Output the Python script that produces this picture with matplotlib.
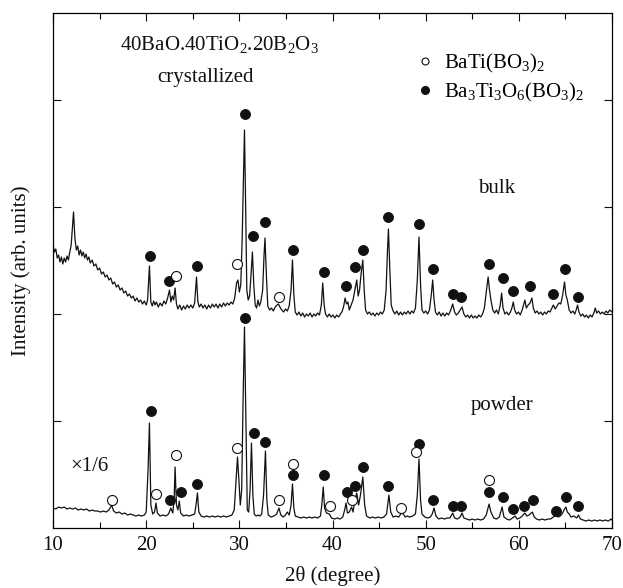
import matplotlib
matplotlib.use("Agg")
import matplotlib.pyplot as plt
from matplotlib.lines import Line2D
from matplotlib.ticker import MultipleLocator

# ---- data (2theta in degree, intensity in arb. units) ----
bulk_2theta = [
    10.0, 10.15, 10.3, 10.45, 10.6, 10.75, 10.9, 11.05, 11.2, 11.35, 11.5, 11.65, 11.8, 11.95,
    12.05, 12.2, 12.35, 12.5, 12.65, 12.8, 12.95, 13.1, 13.25, 13.4, 13.55, 13.7, 13.85, 14.0,
    14.2, 14.4, 14.6, 14.8, 15.0, 15.2, 15.4, 15.6, 15.8, 16.0, 16.2, 16.4, 16.6, 16.8, 17.0,
    17.2, 17.4, 17.6, 17.8, 18.0, 18.2, 18.4, 18.6, 18.8, 19.0, 19.2, 19.4, 19.6, 19.8, 20.0,
    20.15, 20.35, 20.5, 20.65, 20.8, 20.95, 21.1, 21.3, 21.5, 21.7, 21.9, 22.1, 22.3, 22.5,
    22.65, 22.8, 22.95, 23.1, 23.25, 23.4, 23.6, 23.8, 24.0, 24.2, 24.4, 24.6, 24.8, 25.0,
    25.2, 25.4, 25.55, 25.7, 25.9, 26.1, 26.3, 26.5, 26.7, 26.9, 27.1, 27.3, 27.5, 27.7, 27.9,
    28.1, 28.3, 28.5, 28.7, 28.9, 29.1, 29.3, 29.5, 29.7, 29.85, 30.0, 30.15, 30.3, 30.45,
    30.55, 30.65, 30.8, 30.95, 31.1, 31.25, 31.4, 31.55, 31.7, 31.85, 32.0, 32.15, 32.3, 32.5,
    32.65, 32.75, 32.9, 33.05, 33.25, 33.45, 33.65, 33.85, 34.05, 34.2, 34.35, 34.55, 34.75,
    34.95, 35.15, 35.35, 35.55, 35.7, 35.85, 36.0, 36.2, 36.4, 36.6, 36.8, 37.0, 37.2, 37.4,
    37.6, 37.8, 38.0, 38.2, 38.4, 38.6, 38.8, 38.95, 39.1, 39.25, 39.45, 39.65, 39.85, 40.05,
    40.25, 40.45, 40.65, 40.85, 41.05, 41.2, 41.35, 41.5, 41.65, 41.8, 42.0, 42.2, 42.4, 42.6,
    42.75, 42.9, 43.05, 43.25, 43.4, 43.55, 43.75, 43.95, 44.15, 44.35, 44.55, 44.75, 44.95,
    45.15, 45.35, 45.55, 45.75, 45.9, 46.0, 46.15, 46.3, 46.5, 46.7, 46.9, 47.1, 47.3, 47.5,
    47.7, 47.9, 48.1, 48.3, 48.5, 48.7, 48.9, 49.1, 49.28, 49.45, 49.6, 49.8, 50.0, 50.2, 50.4,
    50.6, 50.75, 50.9, 51.05, 51.25, 51.45, 51.65, 51.85, 52.05, 52.25, 52.45, 52.65, 52.9,
    53.1, 53.3, 53.5, 53.7, 53.9, 54.1, 54.3, 54.5, 54.7, 54.9, 55.1, 55.3, 55.5, 55.7, 55.9,
    56.1, 56.3, 56.5, 56.7, 56.85, 57.0, 57.2, 57.4, 57.6, 57.8, 58.0, 58.15, 58.3, 58.5, 58.7,
    58.9, 59.1, 59.25, 59.4, 59.55, 59.75, 59.95, 60.15, 60.35, 60.5, 60.65, 60.8, 61.0, 61.2,
    61.4, 61.55, 61.75, 61.95, 62.15, 62.35, 62.55, 62.75, 62.95, 63.15, 63.35, 63.55, 63.7,
    63.9, 64.1, 64.3, 64.5, 64.7, 64.9, 65.05, 65.2, 65.4, 65.6, 65.8, 66.0, 66.15, 66.3, 66.45,
    66.65, 66.85, 67.05, 67.25, 67.45, 67.65, 67.85, 68.05, 68.2, 68.35, 68.55, 68.75, 68.95,
    69.15, 69.35, 69.55, 69.75, 70.0,
]
bulk_counts = [
    283, 276, 279, 270, 273, 266, 271, 264, 270, 266, 272, 268, 276, 283,
    296, 316, 290, 278, 282, 273, 278, 272, 276, 270, 274, 268, 271, 265,
    268, 262, 264, 258, 260, 254, 256, 251, 253, 248, 250, 244, 246, 241, 243,
    238, 240, 235, 237, 232, 234, 230, 232, 227, 230, 226, 228, 224, 227, 223,
    228, 262, 226, 222, 227, 223, 226, 221, 225, 222, 227, 224, 230, 238,
    226, 232, 228, 240, 224, 219, 223, 218, 222, 219, 223, 220, 223, 220,
    225, 251, 226, 221, 224, 220, 223, 219, 223, 220, 224, 221, 224, 220, 224,
    221, 225, 222, 225, 223, 226, 224, 230, 245, 248, 236, 243, 288, 353,
    398, 338, 238, 228, 232, 253, 276, 243, 223, 220, 228, 222, 226, 238,
    273, 290, 253, 222, 218, 220, 217, 221, 223, 224, 221, 218, 216,
    219, 217, 222, 238, 268, 233, 216, 213, 216, 212, 215, 211, 214, 212,
    215, 211, 214, 212, 215, 213, 223, 245, 223, 214, 211, 214, 211, 213,
    210, 213, 211, 214, 217, 222, 230, 224, 226, 218, 223, 228, 238, 248,
    232, 238, 253, 268, 238, 218, 214, 216, 213, 215, 212, 215, 213,
    216, 214, 218, 238, 278, 299, 258, 223, 217, 214, 217, 213, 216, 213,
    216, 214, 217, 214, 217, 215, 220, 248, 291, 243, 218, 215, 217, 214, 218,
    233, 248, 228, 216, 213, 216, 212, 215, 212, 215, 213, 217, 224,
    216, 213, 215, 218, 221, 214, 211, 213, 210, 213, 210, 212, 210, 213, 211,
    214, 220, 236, 251, 238, 228, 218, 215, 218, 214, 223, 235, 220, 214, 216,
    213, 216, 220, 226, 218, 214, 216, 213, 218, 223, 228, 220, 223, 225,
    230, 220, 215, 217, 214, 216, 213, 216, 214, 217, 216, 220, 223,
    219, 222, 225, 224, 233, 246, 233, 228, 218, 215, 217, 214, 218, 223, 216,
    212, 214, 211, 213, 210, 213, 211, 215, 220, 215, 217, 214, 216,
    214, 217, 215, 218, 216,
]

powder_2theta = [
    10.0, 10.3, 10.6, 10.9, 11.2, 11.5, 11.8, 12.1, 12.4, 12.7, 13.0, 13.3, 13.6, 13.9, 14.2,
    14.5, 14.8, 15.1, 15.4, 15.7, 16.0, 16.3, 16.5, 16.8, 17.1, 17.4, 17.7, 18.0, 18.3, 18.6,
    18.9, 19.2, 19.5, 19.8, 20.0, 20.2, 20.35, 20.5, 20.7, 20.9, 21.05, 21.2, 21.5, 21.8, 22.1,
    22.4, 22.65, 22.85, 23.0, 23.1, 23.25, 23.4, 23.55, 23.7, 24.0, 24.3, 24.6, 24.9, 25.2,
    25.35, 25.5, 25.65, 25.9, 26.2, 26.5, 26.8, 27.1, 27.4, 27.7, 28.0, 28.3, 28.6, 28.9, 29.2,
    29.45, 29.65, 29.8, 29.95, 30.1, 30.25, 30.4, 30.55, 30.7, 30.85, 31.0, 31.15, 31.3, 31.45,
    31.6, 31.8, 32.0, 32.2, 32.4, 32.6, 32.8, 32.95, 33.1, 33.4, 33.7, 34.0, 34.25, 34.45, 34.7,
    34.95, 35.15, 35.35, 35.55, 35.7, 35.85, 36.0, 36.3, 36.6, 36.9, 37.2, 37.5, 37.8, 38.1,
    38.4, 38.7, 38.85, 39.0, 39.15, 39.35, 39.65, 39.9, 40.2, 40.5, 40.8, 41.1, 41.3, 41.45,
    41.6, 41.8, 42.05, 42.2, 42.4, 42.6, 42.8, 43.0, 43.25, 43.45, 43.65, 44.0, 44.3, 44.6,
    44.9, 45.2, 45.5, 45.8, 46.05, 46.25, 46.5, 46.8, 47.1, 47.4, 47.6, 47.8, 48.0, 48.3, 48.6,
    48.9, 49.1, 49.28, 49.45, 49.6, 49.9, 50.2, 50.5, 50.7, 50.9, 51.1, 51.4, 51.7, 52.0, 52.3,
    52.6, 52.9, 53.1, 53.4, 53.7, 53.9, 54.1, 54.4, 54.7, 55.0, 55.3, 55.6, 55.9, 56.2, 56.5,
    56.8, 57.0, 57.3, 57.6, 57.9, 58.2, 58.4, 58.7, 59.0, 59.3, 59.6, 59.8, 60.1, 60.35, 60.65,
    60.85, 61.1, 61.45, 61.65, 61.9, 62.2, 62.5, 62.8, 63.1, 63.4, 63.7, 64.0, 64.2, 64.45,
    64.7, 64.9, 65.05, 65.2, 65.4, 65.6, 65.9, 66.2, 66.4, 66.6, 66.9, 67.2, 67.5, 67.8, 68.1,
    68.4, 68.7, 69.0, 69.3, 69.6, 69.9, 70.0,
]
powder_counts = [
    20, 19, 21, 20, 21, 19, 20, 19, 20, 18, 19, 18, 19, 17, 18,
    17, 17, 16, 17, 16, 18, 23, 17, 15, 16, 14, 15, 13, 14, 13,
    12, 13, 12, 13, 16, 58, 105, 23, 14, 16, 25, 15, 12, 13, 12,
    14, 20, 15, 28, 61, 23, 18, 27, 15, 12, 13, 12, 13, 14,
    23, 35, 16, 12, 11, 12, 11, 12, 11, 12, 11, 12, 11, 12, 13,
    18, 48, 71, 48, 23, 38, 128, 201, 108, 18, 16, 38, 85, 33,
    14, 12, 13, 12, 14, 33, 77, 28, 13, 11, 12, 14, 20, 13, 11,
    13, 16, 13, 23, 44, 20, 12, 11, 10, 11, 10, 11, 10, 11,
    10, 12, 23, 41, 20, 15, 14, 10, 9, 10, 9, 11, 18, 25,
    15, 16, 21, 16, 28, 35, 23, 33, 51, 23, 12, 10, 11, 10,
    11, 10, 11, 14, 33, 16, 11, 12, 11, 15, 14, 11, 12, 11, 12,
    14, 33, 69, 28, 14, 11, 10, 11, 14, 20, 12, 9, 10, 9, 10,
    10, 15, 10, 9, 11, 15, 10, 9, 8, 9, 8, 9, 8, 9, 13,
    24, 16, 10, 9, 11, 21, 11, 9, 8, 10, 12, 9, 10, 12, 15,
    12, 13, 16, 11, 9, 8, 9, 8, 9, 9, 11, 13, 11, 12,
    15, 19, 21, 16, 14, 11, 12, 10, 13, 9, 8, 7, 8, 7, 8,
    7, 8, 7, 8, 7, 9, 8,
]

# phase markers: BaTi(BO3)2 (open) and Ba3Ti3O6(BO3)2 (filled)
bulk_open_2theta = [23.2, 29.8, 34.3]
bulk_open_y = [252, 264, 231]
bulk_filled_2theta = [20.4, 22.5, 25.5, 30.6, 31.5, 32.8, 35.8, 39.1, 41.4, 42.4, 43.3, 46.0,
                      49.3, 50.8, 52.9, 53.8, 56.8, 58.3, 59.4, 61.2, 63.7, 64.9, 66.4]
bulk_filled_y = [272, 247, 262, 414, 292, 306, 278, 256, 242, 261, 278, 311,
                 304, 259, 234, 231, 264, 250, 237, 242, 234, 259, 231]
powder_open_2theta = [16.3, 21.1, 23.2, 29.8, 34.3, 35.8, 39.7, 42.1, 47.4, 49.0, 56.8]
powder_open_y = [28, 34, 73, 80, 28, 64, 22, 28, 20, 76, 48]
powder_filled_2theta = [20.5, 22.6, 23.7, 25.5, 30.6, 31.6, 32.8, 35.8, 39.1, 41.5, 42.4, 43.3,
                        46.0, 49.3, 50.8, 52.9, 53.8, 56.8, 58.3, 59.4, 60.6, 61.5, 64.0, 65.1, 66.4]
powder_filled_y = [117, 28, 36, 44, 210, 95, 86, 53, 53, 36, 42, 61,
                   42, 84, 28, 22, 22, 36, 31, 19, 22, 28, 17, 31, 22]

y_ticks = [107, 214, 321, 428]

plt.rcParams['font.family'] = 'Liberation Serif'
plt.rcParams['mathtext.fontset'] = 'custom'
plt.rcParams['mathtext.rm'] = 'Liberation Serif'
plt.rcParams['mathtext.it'] = 'Liberation Serif:italic'
plt.rcParams['axes.linewidth'] = 0.9

fig = plt.figure(figsize=(6.23, 5.88), dpi=100)
ax = fig.add_axes([0.0851, 0.1020, 0.8973, 0.8759])

ink = '#111111'
ax.plot(bulk_2theta, bulk_counts, color=ink, lw=0.9)
ax.plot(powder_2theta, powder_counts, color=ink, lw=0.9)

ax.plot(bulk_filled_2theta, bulk_filled_y, 'o', ms=7.2, mfc=ink, mec=ink, mew=0.6)
ax.plot(powder_filled_2theta, powder_filled_y, 'o', ms=7.2, mfc=ink, mec=ink, mew=0.6)
ax.plot(bulk_open_2theta, bulk_open_y, 'o', ms=7.2, mfc='white', mec=ink, mew=0.8)
ax.plot(powder_open_2theta, powder_open_y, 'o', ms=7.2, mfc='white', mec=ink, mew=0.8)

ax.set_xlim(10, 70)
ax.set_ylim(0, 515)
ax.xaxis.set_major_locator(MultipleLocator(10))
ax.xaxis.set_minor_locator(MultipleLocator(5))
ax.set_yticks(y_ticks)
ax.set_yticklabels([])
ax.tick_params(which='major', direction='in', top=True, right=True, length=6, width=0.8,
               labelsize=15, pad=6, colors=ink)
ax.tick_params(which='minor', direction='in', top=True, right=False, length=4, width=0.8)
ax.tick_params(axis='y', which='minor', left=False, right=False)

ax.set_xlabel('2\u03b8 (degree)', fontsize=15, color=ink, labelpad=8)
ax.set_ylabel('Intensity (arb. units)', fontsize=15, color=ink, labelpad=10)

ax.text(27.9, 483, r'40BaO.40TiO$_2$.20B$_2$O$_3$', fontsize=15, ha='center', va='center', color=ink)
ax.text(26.4, 450, 'crystallized', fontsize=15, ha='center', va='center', color=ink)
ax.text(57.65, 340, 'bulk', fontsize=15, ha='center', va='center', color=ink)
ax.text(58.2, 123, 'powder', fontsize=15, ha='center', va='center', color=ink)
ax.text(13.9, 62, '\u00d71/6', fontsize=15, ha='center', va='center', color=ink)

handles = [
    Line2D([], [], ls='none', marker='o', ms=5, mfc='white', mec=ink, mew=0.8),
    Line2D([], [], ls='none', marker='o', ms=5.5, mfc=ink, mec=ink),
]
ax.legend(handles, [r'BaTi(BO$_3$)$_2$', r'Ba$_3$Ti$_3$O$_6$(BO$_3$)$_2$'],
          loc='upper left', bbox_to_anchor=(0.647, 0.925), frameon=False, fontsize=15,
          handlelength=1.0, handletextpad=0.4, labelspacing=0.28, borderpad=0, borderaxespad=0)

fig.savefig('out.png', dpi=100)
